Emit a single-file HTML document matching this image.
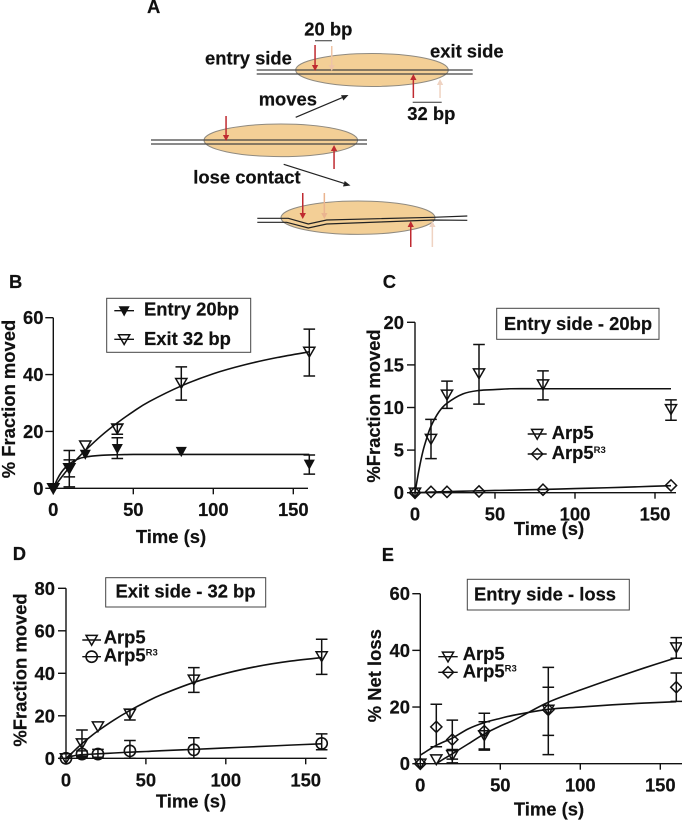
<!DOCTYPE html>
<html lang="en">
<head>
<meta charset="utf-8">
<title>Arp5 fraction moved figure</title>
<style>
html,body{margin:0;padding:0;background:#fff;}
svg{display:block;font-family:"Liberation Sans",Arial,sans-serif;font-weight:bold;fill:#111;filter:blur(0.3px);}
svg text{font-size:18.4px;stroke:#111;stroke-width:0.2px;}
</style>
</head>
<body>
<svg id="figure" xmlns="http://www.w3.org/2000/svg" width="682" height="821" viewBox="0 0 682 821">
  <g>
    <text x="147" y="13">A</text>

    <g>
      <ellipse cx="372" cy="70" rx="76.3" ry="16.5" fill="#f3cf96" stroke="#8f8a80" stroke-width="1"/>
      <path d="M256.7 70H472.7M256.7 74H472.7" stroke="#444" stroke-width="1.3" fill="none"/>
    </g>
    <g>
      <ellipse cx="280.8" cy="140.3" rx="76.8" ry="16.3" fill="#f3cf96" stroke="#8f8a80" stroke-width="1"/>
      <path d="M151 140H367M151 144H367" stroke="#444" stroke-width="1.3" fill="none"/>
    </g>
    <g>
      <ellipse cx="358" cy="217.7" rx="77" ry="16.7" fill="#f3cf96" stroke="#8f8a80" stroke-width="1"/>
      <path d="M257.3 218.3H288.3L308.3 224L326.7 220L433.3 217.3L467.3 216" stroke="#222" stroke-width="1.2" fill="none"/>
      <path d="M257.3 222.3H286.7L308.3 228L326.7 224L433.3 220L467.3 220.3" stroke="#222" stroke-width="1.2" fill="none"/>
    </g>

    <g fill="#bf2a30" stroke="none">
      <path d="M314.3 45h1.5v20h2.4l-3.15 6-3.15-6h2.4z"/>
      <path d="M412.6 98h1.5V80h2.4l-3.15-6-3.15 6h2.4z"/>
      <path d="M225.3 116h1.5v19h2.4l-3.15 6-3.15-6h2.4z"/>
      <path d="M333.3 169h1.5v-18h2.4l-3.15-6-3.15 6h2.4z"/>
      <path d="M302 193h1.5v20h2.4l-3.15 6-3.15-6h2.4z"/>
      <path d="M410 247h1.5v-20h2.4l-3.15-6-3.15 6h2.4z"/>
    </g>
    <g stroke="none">
      <path fill="#efc4a6" d="M331 46h1.5v19h2.4l-3.15 6-3.15-6h2.4z"/>
      <path fill="#efd3c2" d="M439.3 98V85h-2.4l3.15-6 3.15 6h-2.4v13z"/>
      <path fill="#eab48f" d="M323.6 193h1.5v20h2.4l-3.15 6-3.15-6h2.4z"/>
      <path fill="#efd3c2" d="M431.6 247v-20h-2.4l3.15-6 3.15 6h-2.4v20z"/>
    </g>

    <path d="M315 40.7H332" stroke="#333" stroke-width="1"/>
    <path d="M412.7 102.3H441.7" stroke="#333" stroke-width="1"/>

    <g>
      <path d="M295.7 117.3L343 97.3" stroke="#222" stroke-width="1.2" fill="none"/>
      <path d="M348.5 95L341 95.3L343.4 100.5z" fill="#222"/>
      <path d="M283.7 164.3L345 183.7" stroke="#222" stroke-width="1.2" fill="none"/>
      <path d="M350.5 185.5L343 186.5L344.7 181z" fill="#222"/>
    </g>

    <text x="304.3" y="35.7">20 bp</text>
    <text x="407.3" y="120">32 bp</text>
    <text x="205" y="64.3">entry side</text>
    <text x="430" y="57.3">exit side</text>
    <text x="258.7" y="105.7">moves</text>
    <text x="193.3" y="183.3">lose contact</text>
  </g>

  <text x="9" y="288">B</text>
  <text x="382.7" y="288">C</text>
  <text x="12.7" y="560">D</text>
  <text x="381.7" y="561">E</text>

  <g>
    <text x="171" y="543" text-anchor="middle">Time (s)</text>
    <text transform="translate(15 399) rotate(-90)" text-anchor="middle">% Fraction moved</text>
    <text x="549" y="535" text-anchor="middle">Time (s)</text>
    <text transform="translate(380 406) rotate(-90)" text-anchor="middle">%Fraction moved</text>
    <text x="191" y="807.3" text-anchor="middle">Time (s)</text>
    <text transform="translate(26.7 670) rotate(-90)" text-anchor="middle">%Fraction moved</text>
    <text x="549" y="815.7" text-anchor="middle">Time (s)</text>
    <text transform="translate(381 675.7) rotate(-90)" text-anchor="middle">% Net loss</text>
  </g>

  <g>
    <rect x="106.7" y="298.3" width="144" height="54" fill="#fff" stroke="#444" stroke-width="1"/>
    <text x="144" y="315.7">Entry 20bp</text>
    <text x="144" y="345">Exit 32 bp</text>
  </g>
  <g>
    <rect x="496.7" y="308.3" width="162.3" height="31" fill="#fff" stroke="#444" stroke-width="1"/>
    <text x="578" y="330" text-anchor="middle">Entry side - 20bp</text>
  </g>
  <g>
    <text x="551.7" y="439">Arp5</text>
    <text x="551.7" y="459">Arp5<tspan dy="-6" style="font-size:9.5px;stroke-width:0">R3</tspan></text>
  </g>
  <g>
    <rect x="105.7" y="577.7" width="160" height="29.3" fill="#fff" stroke="#444" stroke-width="1"/>
    <text x="185.5" y="597.7" text-anchor="middle">Exit side - 32 bp</text>
  </g>
  <g>
    <text x="103.7" y="643.3">Arp5</text>
    <text x="103.7" y="661.7">Arp5<tspan dy="-6" style="font-size:9.5px;stroke-width:0">R3</tspan></text>
  </g>
  <g>
    <rect x="467.3" y="579.3" width="162" height="30.7" fill="#fff" stroke="#444" stroke-width="1"/>
    <text x="545" y="600.7" text-anchor="middle">Entry side - loss</text>
  </g>
  <g>
    <text x="462.7" y="660">Arp5</text>
    <text x="462.7" y="677.3">Arp5<tspan dy="-6" style="font-size:9.5px;stroke-width:0">R3</tspan></text>
  </g>
</svg>

<script>
// Shared time points and axis ticks
const times = [0, 10, 20, 40, 80, 160];
const fitTimes = [0, 2.5, 5, 7.5, 10, 15, 20, 30, 40, 50, 60, 80, 100, 120, 140, 160];
const xTicks = [0, 50, 100, 150];
const yTicksB = [0, 20, 40, 60];
const yTicksC = [0, 5, 10, 15, 20];
const yTicksD = [0, 20, 40, 60, 80];
const yTicksE = [0, 20, 40, 60];

// Panel B
const bEntry = [0, 7, 12, 14, 13, 8.5];
const bEntryLow = [null, 4, null, 10.5, null, 5];
const bEntryHigh = [null, 10, null, 17.8, null, 11.7];
const bEntryFit = [0, 3.2, 5.6, 7.3, 8.6, 10.2, 11, 11.6, 11.8, 11.9, 11.9, 11.9, 11.9, 11.9, 11.9, 11.9];
const bExit = [0, 7, 15, 21, 37, 48];
const bExitLow = [null, 0.5, null, 19, 31, 39.5];
const bExitHigh = [null, 13.3, null, 22.5, 42.7, 56];
const bExitFit = [0, 1.9, 3.8, 5.6, 7.3, 10.4, 13.3, 18.5, 23, 27, 30.5, 36, 40.3, 43.5, 46, 48];

// Panel C
const cArp5 = [0, 6.3, 11.5, 14, 12.7, 9.8];
const cArp5Low = [null, 4, 9.9, 10.4, 10.9, 8.5];
const cArp5High = [null, 8.6, 13.1, 17.4, 14.3, 10.9];
const cArp5Fit = [0, 2.7, 4.9, 6.5, 7.8, 9.5, 10.5, 11.6, 12, 12.1, 12.2, 12.2, 12.2, 12.2, 12.2, 12.2];
const cR3 = [0, 0.1, 0.1, 0.15, 0.35, 0.85];
const cR3Fit = [0, 0.01, 0.03, 0.05, 0.08, 0.1, 0.12, 0.18, 0.22, 0.26, 0.3, 0.38, 0.48, 0.58, 0.7, 0.82];

// Panel D
const dArp5 = [0, 7, 15, 21, 37, 48];
const dArp5Low = [null, 1, null, 18, 31, 39.5];
const dArp5High = [null, 13.3, null, 23, 42.7, 56];
const dArp5Fit = [0, 1.7, 3.4, 5.2, 6.9, 10, 12.9, 18, 22.5, 26.5, 30, 35.7, 40, 43.3, 45.7, 47.4];
const dR3 = [0, 2, 2, 3.5, 4, 7];
const dR3Low = [null, 0.5, 0.5, 0, 0, 4];
const dR3High = [null, 3.5, 4.2, 8.4, 9.7, 11.5];
const dR3Fit = [0, 0.8, 1.2, 1.5, 1.7, 1.9, 2.1, 2.5, 2.9, 3.2, 3.6, 4.2, 4.9, 5.5, 6.2, 6.8];

// Panel E
const eArp5 = [0, 1.5, 3, 10, 19, 41];
const eArp5Low = [null, null, 0.3, 5.2, 3.2, 37.2];
const eArp5High = [null, null, 5, 14.8, 34, 44.5];
const eArp5Fit = [null, null, null, null, 0, 1.8, 3.5, 7, 10.5, 13.3, 15.8, 21.7, 26, 30, 33.8, 37.4];
const eR3 = [0, 13, 8.5, 11.5, 19, 27];
const eR3Low = [null, 6, 1.6, 4.8, 10, 22];
const eR3High = [null, 21, 15.4, 17.8, 27, 32];
const eR3Fit = [3, 3.9, 4.8, 5.7, 6.5, 7.8, 9, 12.3, 14.5, 16, 17.3, 19.2, 20, 20.8, 21.4, 21.9];

const SVG_NS = 'http://www.w3.org/2000/svg';
const figure = document.getElementById('figure');

function make(tag, parent, attrs) {
  const node = document.createElementNS(SVG_NS, tag);
  for (const key in attrs) node.setAttribute(key, attrs[key]);
  parent.appendChild(node);
  return node;
}

function makeAxes(x0, x150, y0, yTop, yMax) {
  return {
    x: function (t) { return x0 + t * (x150 - x0) / 150; },
    y: function (v) { return y0 - v * (y0 - yTop) / yMax; },
    yMax: yMax
  };
}

function smoothPath(points) {
  let d = 'M' + points[0][0].toFixed(2) + ' ' + points[0][1].toFixed(2);
  for (let i = 0; i < points.length - 1; i++) {
    const p0 = points[Math.max(i - 1, 0)];
    const p1 = points[i];
    const p2 = points[i + 1];
    const p3 = points[Math.min(i + 2, points.length - 1)];
    const c1x = p1[0] + (p2[0] - p0[0]) / 6;
    const c1y = p1[1] + (p2[1] - p0[1]) / 6;
    const c2x = p2[0] - (p3[0] - p1[0]) / 6;
    const c2y = p2[1] - (p3[1] - p1[1]) / 6;
    d += 'C' + c1x.toFixed(2) + ' ' + c1y.toFixed(2) + ' ' + c2x.toFixed(2) + ' ' + c2y.toFixed(2) + ' ' + p2[0].toFixed(2) + ' ' + p2[1].toFixed(2);
  }
  return d;
}

function drawAxes(panel, axes, xEnd, yTicks, yLabelRight, xLabelBase) {
  const group = make('g', figure, {});
  
  
  const x0 = axes.x(0);
  const y0 = axes.y(0);
  const axisPath = 'M' + x0 + ' ' + axes.y(axes.yMax) + 'V' + y0 + 'H' + xEnd;
  const axisLine = make('path', group, { d: axisPath, fill: 'none', stroke: '#111', 'stroke-width': 1.4 });
  
  
  yTicks.forEach(function (tick) {
    const py = axes.y(tick);
    const mark = make('line', group, { x1: x0 - 8, x2: x0, y1: py, y2: py, stroke: '#111', 'stroke-width': 1.4 });
    
    
    const label = make('text', group, { x: yLabelRight, y: py + 6.5, 'text-anchor': 'end' });
    
    
    label.textContent = tick;
  });
  xTicks.forEach(function (tick) {
    const px = axes.x(tick);
    const mark = make('line', group, { x1: px, x2: px, y1: y0, y2: y0 + 6, stroke: '#111', 'stroke-width': 1.4 });
    
    
    const label = make('text', group, { x: px, y: xLabelBase, 'text-anchor': 'middle' });
    
    
    label.textContent = tick;
  });
}

function drawMarker(parent, shape, cx, cy) {
  let node;
  if (shape === 'circle') {
    node = make('circle', parent, { cx: cx, cy: cy, r: 5.6, fill: 'none', stroke: '#111', 'stroke-width': 1.6 });
  } else if (shape === 'diamond') {
    const d = 'M' + cx + ' ' + (cy - 5.6) + 'L' + (cx + 5.6) + ' ' + cy + 'L' + cx + ' ' + (cy + 5.6) + 'L' + (cx - 5.6) + ' ' + cy + 'Z';
    node = make('path', parent, { d: d, fill: 'none', stroke: '#111', 'stroke-width': 1.5 });
  } else if (shape === 'solid') {
    const d = 'M' + (cx - 4.8) + ' ' + (cy - 4) + 'H' + (cx + 4.8) + 'L' + cx + ' ' + (cy + 4.8) + 'Z';
    node = make('path', parent, { d: d, fill: '#111', stroke: '#111', 'stroke-width': 0.9 });
  } else {
    const d = 'M' + (cx - 5.6) + ' ' + (cy - 4.6) + 'H' + (cx + 5.6) + 'L' + cx + ' ' + (cy + 5.2) + 'Z';
    node = make('path', parent, { d: d, fill: 'none', stroke: '#111', 'stroke-width': 1.5 });
  }
  return node;
}

function drawSeries(panel, label, axes, shape, values, low, high, fit) {
  const group = make('g', figure, {});
  
  

  const fitPoints = [];
  fit.forEach(function (v, i) {
    if (v === null) return;
    fitPoints.push([axes.x(fitTimes[i]), axes.y(v)]);
  });
  const curve = make('path', group, { d: smoothPath(fitPoints), fill: 'none', stroke: '#111', 'stroke-width': 1.6, 'stroke-linejoin': 'round' });
  
  

  values.forEach(function (v, i) {
    const px = axes.x(times[i]);
    if (low && low[i] !== null) {
      const yl = axes.y(low[i]);
      const yh = axes.y(high[i]);
      const bar = make('path', group, {
        d: 'M' + px + ' ' + yl + 'V' + yh + 'M' + (px - 5.8) + ' ' + yl + 'H' + (px + 5.8) + 'M' + (px - 5.8) + ' ' + yh + 'H' + (px + 5.8),
        fill: 'none', stroke: '#111', 'stroke-width': 1.5
      });
      
      
    }
    const point = drawMarker(group, shape, px, axes.y(v));
    
    
  });
}

function drawLegendKey(panel, label, shape, x1, x2, cy) {
  const group = make('g', figure, {});
  
  
  make('line', group, { x1: x1, x2: x2, y1: cy, y2: cy, stroke: '#111', 'stroke-width': 1.4 });
  drawMarker(group, shape, (x1 + x2) / 2, cy);
}

const axesB = makeAxes(53.3, 293.3, 488.3, 317.7, 60);
const axesC = makeAxes(415, 655, 492.7, 322.3, 20);
const axesD = makeAxes(66, 305.7, 758.3, 588.3, 80);
const axesE = makeAxes(420.3, 660.3, 763.7, 593.7, 60);

drawAxes('b', axesB, 308, yTicksB, 43.5, 516);
drawAxes('c', axesC, 676, yTicksC, 404, 520.7);
drawAxes('d', axesD, 326.7, yTicksD, 55, 786.7);
drawAxes('e', axesE, 682, yTicksE, 410, 791.7);

drawSeries('b', 'exit-32bp', axesB, 'open', bExit, bExitLow, bExitHigh, bExitFit);
drawSeries('b', 'entry-20bp', axesB, 'solid', bEntry, bEntryLow, bEntryHigh, bEntryFit);
drawSeries('c', 'arp5', axesC, 'open', cArp5, cArp5Low, cArp5High, cArp5Fit);
drawSeries('c', 'arp5r3', axesC, 'diamond', cR3, null, null, cR3Fit);
drawSeries('d', 'arp5', axesD, 'open', dArp5, dArp5Low, dArp5High, dArp5Fit);
drawSeries('d', 'arp5r3', axesD, 'circle', dR3, dR3Low, dR3High, dR3Fit);
drawSeries('e', 'arp5', axesE, 'open', eArp5, eArp5Low, eArp5High, eArp5Fit);
drawSeries('e', 'arp5r3', axesE, 'diamond', eR3, eR3Low, eR3High, eR3Fit);

drawLegendKey('b', 'entry-20bp', 'solid', 114.3, 134, 310.7);
drawLegendKey('b', 'exit-32bp', 'open', 114.3, 134, 339.3);
drawLegendKey('c', 'arp5', 'open', 527.7, 546.7, 434);
drawLegendKey('c', 'arp5r3', 'diamond', 527.7, 546.7, 454);
drawLegendKey('d', 'arp5', 'open', 82.3, 101, 640);
drawLegendKey('d', 'arp5r3', 'circle', 82.3, 101, 656.7);
drawLegendKey('e', 'arp5', 'open', 438.3, 457.7, 656.7);
drawLegendKey('e', 'arp5r3', 'diamond', 438.3, 457.7, 672.3);
</script>
</body>
</html>
